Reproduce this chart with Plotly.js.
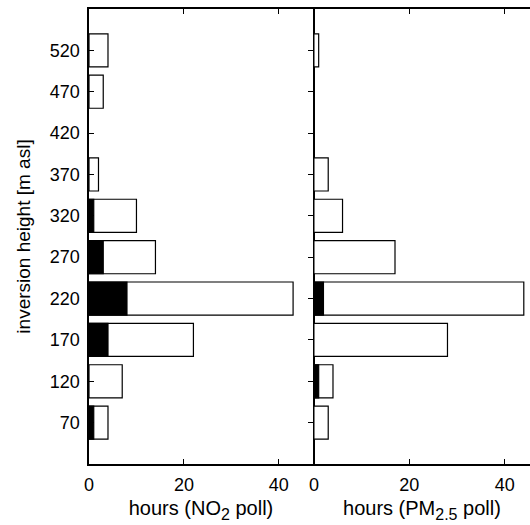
<!DOCTYPE html>
<html>
<head>
<meta charset="utf-8">
<script src="https://cdn.plot.ly/plotly-3.0.1.min.js"></script>
<style>html,body{margin:0;padding:0;background:#fff;}#chart{width:530px;height:525px;}</style>
</head>
<body>
<div id="chart"></div>
<script>
// inversion heights [m asl]
var heights = [70, 120, 170, 220, 270, 320, 370, 420, 470, 520];
// NO2 panel: total hours (white) and polluted hours (black)
var no2Total = [4, 7, 22, 43, 14, 10, 2, 0, 3, 4];
var no2Poll  = [1, 0, 4, 8, 3, 1, 0, 0, 0, 0];
// PM2.5 panel: total hours (white) and polluted hours (black)
var pmTotal = [3, 4, 28, 44, 17, 6, 3, 0, 0, 1];
var pmPoll  = [0, 1, 0, 2, 0, 0, 0, 0, 0, 0];
var xTicks = [0, 20, 40];

var FONT = "Liberation Sans, Arial, Helvetica, sans-serif";
function bar(x, color, xa) {
  return {type: 'bar', orientation: 'h', y: heights, x: x, width: 40,
    xaxis: xa, yaxis: 'y',
    marker: {color: color, line: {color: '#000', width: x.map(function (v) { return v > 0 ? 1.2 : 0; })}},
    hoverinfo: 'skip', showlegend: false};
}
var data = [
  bar(no2Total, '#fff', 'x'), bar(no2Poll, '#000', 'x'),
  bar(pmTotal, '#fff', 'x2'), bar(pmPoll, '#000', 'x2')
];
var axCommon = {showgrid: false, zeroline: false, showline: true, linecolor: '#000', linewidth: 1.6,
  ticks: 'inside', ticklen: 5, tickwidth: 1, tickcolor: '#000',
  tickfont: {family: FONT, size: 18, color: '#000'}};
var titleFont = {family: FONT, size: 20, color: '#000'};
var layout = {
  width: 530, height: 525,
  margin: {l: 89, r: 0, t: 9, b: 61},
  paper_bgcolor: '#fff', plot_bgcolor: '#fff',
  barmode: 'overlay',
  font: {family: FONT, color: '#000'},
  xaxis: Object.assign({}, axCommon, {domain: [0, 0.508], range: [0, 47.2], tickvals: xTicks,
    mirror: 'ticks', ticklabelstandoff: 4,
    title: {text: 'hours (NO<sub><span style="font-size:16px">2</span></sub> poll)', font: titleFont, standoff: 7}}),
  xaxis2: Object.assign({}, axCommon, {domain: [0.51, 1], range: [0, 45.3], tickvals: xTicks,
    mirror: 'ticks', anchor: 'y', ticklabelstandoff: 4,
    title: {text: 'hours (PM<sub><span style="font-size:16px">2.5</span></sub> poll)', font: titleFont, standoff: 7}}),
  yaxis: Object.assign({}, axCommon, {range: [20, 570], tickvals: heights, mirror: 'ticks',
    ticklabelstandoff: 4,
    title: {text: 'inversion height [m asl]', font: {family: FONT, size: 19, color: '#000'}, standoff: 14}}),
  yaxis2: {overlaying: 'y', visible: false}
};
Plotly.newPlot('chart', data, layout, {displayModeBar: false, staticPlot: true});
</script>
</body>
</html>
